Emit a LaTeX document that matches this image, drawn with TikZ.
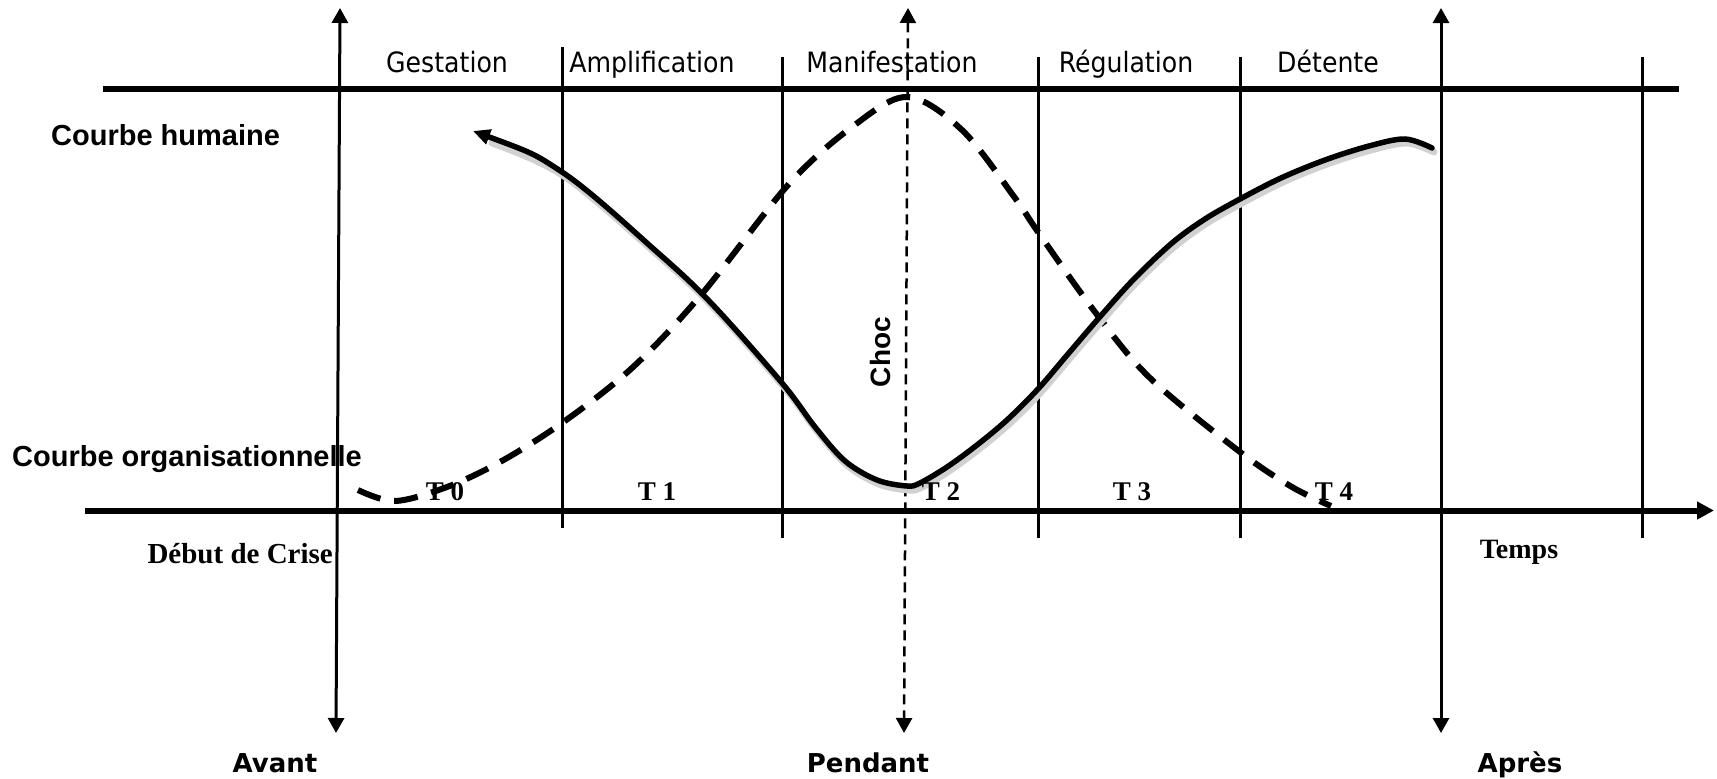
\documentclass[tikz,border=0pt]{standalone}
\usepackage{fontspec}
\usetikzlibrary{arrows.meta}
\newfontfamily\phasefont{DejaVu Sans Condensed}
\newfontfamily\labelfont{Liberation Sans}
\newfontfamily\serifbold{Liberation Serif}
\newfontfamily\verdfont{DejaVu Sans}
\begin{document}
\begin{tikzpicture}[x=1pt,y=-1pt,
  phase/.style={font=\phasefont\fontsize{28}{32}\selectfont, anchor=base, inner sep=0pt},
  curvelab/.style={font=\labelfont\bfseries\fontsize{29}{34}\selectfont, anchor=base west, inner sep=0pt},
  tlab/.style={font=\serifbold\bfseries\fontsize{27}{32}\selectfont, anchor=base, inner sep=0pt},
  era/.style={font=\verdfont\bfseries\fontsize{26}{30}\selectfont, anchor=base, inner sep=0pt},
  bigline/.style={line width=6pt},
  divider/.style={line width=3pt},
  bothtips/.style={{Triangle[length=15pt,width=16pt]}-{Triangle[length=15pt,width=16pt]}},
  curve/.style={line width=5.5pt, line cap=round},
  orgcurve/.style={line width=6pt, dash pattern=on 24pt off 14pt},
  shadowcurve/.style={line width=7pt, draw=black!18, line cap=round}
]
\useasboundingbox (0,0) rectangle (1717,779);

% coordinates
\coordinate (topL) at (103,89);
\coordinate (topR) at (1679,89);
\coordinate (axL) at (85,510.5);
\coordinate (axR) at (1714,510.5);
\coordinate (a1t) at (340,8);
\coordinate (a1b) at (336,733);
\coordinate (a2t) at (908,8);
\coordinate (a2b) at (904,733);
\coordinate (a3t) at (1441,8);
\coordinate (a3b) at (1441,733);

% horizontal lines
\draw[bigline] (topL) -- (topR);
\draw[bigline, -{Triangle[length=17pt,width=17pt]}] (axL) -- (axR);

% dividers
\coordinate (d1t) at (562,47);  \coordinate (d1b) at (562,528);
\coordinate (d2t) at (782,57);  \coordinate (d2b) at (782,538);
\coordinate (d3t) at (1038,57); \coordinate (d3b) at (1038,538);
\coordinate (d4t) at (1240,57); \coordinate (d4b) at (1240,538);
\coordinate (d5t) at (1642,57); \coordinate (d5b) at (1642,538);
\foreach \n in {1,...,5} {\draw[divider] (d\n t) -- (d\n b);}

% vertical arrows
\draw[divider, bothtips] (a1t) -- (a1b);
\draw[line width=2.5pt, dash pattern=on 10pt off 6pt, bothtips] (a2t) -- (a2b);
\draw[divider, bothtips] (a3t) -- (a3b);

% organisational (dashed) curve
\draw[orgcurve] plot[smooth, tension=0.55] coordinates {
  (358,490) (395,501) (447,487) (500,462) (562,423) (632,368) (701,295)
  (788,185) (852,127) (907,97) (962,130) (1015,198) (1038,232)
  (1095,312) (1150,378) (1240,452) (1292,487) (1331,506)};

% human (solid) curve with shadow
\draw[shadowcurve, shift={(2,4)}] plot[smooth, tension=0.55] coordinates {
  (490,139) (562,172) (657,252) (712,304) (782,383) (815,427) (845,461)
  (877,480) (907,486) (920,483) (947,467) (977,445) (1007,420) (1038,389)
  (1068,354) (1098,319) (1133,280) (1172,243) (1205,219) (1240,199)
  (1281,178) (1325,160) (1369,146) (1405,139) (1432,148)};
\coordinate (hs) at (473,131);
\draw[curve, {Triangle[length=17pt,width=15pt]}-] plot[smooth, tension=0.55] coordinates {
  (hs) (562,172) (657,252) (712,304) (782,383) (815,427) (845,461)
  (877,480) (907,486) (920,483) (947,467) (977,445) (1007,420) (1038,389)
  (1068,354) (1098,319) (1133,280) (1172,243) (1205,219) (1240,199)
  (1281,178) (1325,160) (1369,146) (1405,139) (1432,148)};

% phase labels
\node[phase] (gest) at (447,72) {Gestation};
\node[phase] (ampl) at (652,72) {Amplification};
\node[phase] (mani) at (892,72) {Manifestation};
\node[phase] (regu) at (1126,72) {Régulation};
\node[phase] (dete) at (1328,72) {Détente};

% curve labels
\node[curvelab] (ch) at (51,145) {Courbe humaine};
\node[curvelab] (co) at (12,466) {Courbe organisationnelle};
\node[font=\labelfont\bfseries\fontsize{28}{32}\selectfont, rotate=90, inner sep=0pt] (choc) at (880,352) {Choc};

% T labels
\node[tlab] (t0) at (445,500) {T 0};
\node[tlab] (t1) at (657,500) {T 1};
\node[tlab] (t2) at (941,500) {T 2};
\node[tlab] (t3) at (1132,500) {T 3};
\node[tlab] (t4) at (1334,500) {T 4};

\node[tlab, anchor=base east, font=\serifbold\bfseries\fontsize{29}{33}\selectfont] (debut) at (333,563) {Début de Crise};
\node[tlab, font=\serifbold\bfseries\fontsize{28}{32}\selectfont] (temps) at (1519,558) {Temps};

% era labels
\node[era] (avant) at (275,772) {Avant};
\node[era] (pendant) at (868,772) {Pendant};
\node[era] (apres) at (1520,772) {Après};
\end{tikzpicture}
\end{document}
